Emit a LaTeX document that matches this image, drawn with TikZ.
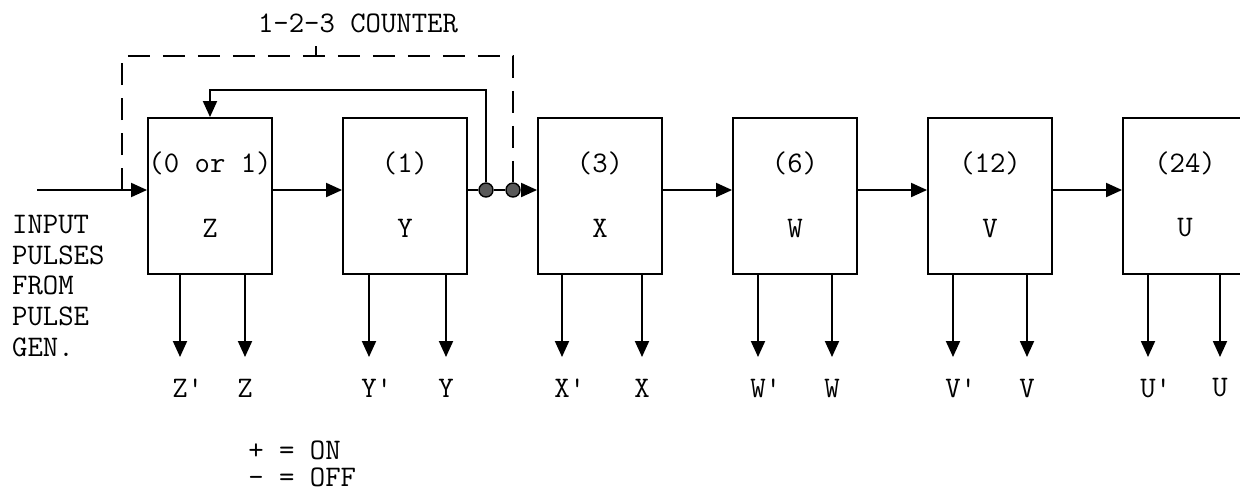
\documentclass[tikz,border=0pt]{standalone}
\usetikzlibrary{arrows.meta}

\tikzset{
  stage/.style={draw, line width=1.1pt, minimum width=2.48cm, minimum height=3.12cm, inner sep=0pt},
  sig/.style={line width=1.1pt, -{Triangle[length=0.32cm,width=0.28cm]}},
  tap/.style={draw, circle, fill=black!65, line width=0.8pt, minimum size=0.28cm, inner sep=0pt},
  cnt/.style={line width=1.1pt, dash pattern=on 0.44cm off 0.26cm},
}

\begin{document}
\begin{tikzpicture}[x=0.02cm, y=-0.02cm, font=\ttfamily\fontsize{17}{20}\selectfont]
    \useasboundingbox (0,0) rectangle (1240,495);

    % Stages of the divider chain
    \foreach \n/\x/\c in {Z/210/{(0 or 1)}, Y/405/(1), X/600/(3), W/795/(6), V/990/(12), U/1185/(24)} {
        \node[stage] (\n) at (\x,196) {};
        \node (\n c) at (\x,163) {\c};
        \node (\n n) at (\x,228) {\n};
    }

    % Input line
    \coordinate (inp) at (37,190);
    \draw[sig] (inp) -- (Z.west |- inp);

    % Chain connections
    \draw[sig] (Z.east |- inp) -- (Y.west |- inp);
    \node[tap] (t1) at (486,190) {};
    \node[tap] (t2) at (513,190) {};
    \draw[line width=1.1pt] (Y.east |- inp) -- (t1) -- (t2);
    \draw[sig] (t2) -- (X.west |- inp);
    \draw[sig] (X.east |- inp) -- (W.west |- inp);
    \draw[sig] (W.east |- inp) -- (V.west |- inp);
    \draw[sig] (V.east |- inp) -- (U.west |- inp);

    % Reset feedback
    \coordinate (fb) at (486,90);
    \draw[sig] (t1) -- (fb) -| (Z.north);

    % Counter bracket
    \coordinate (dl) at (122,190);
    \coordinate (ctop) at (513,56);
    \draw[cnt] (dl) |- (ctop) -- (t2);
    \coordinate (tk) at (316,56);
    \draw[line width=0.8pt] (tk) -- ++(0,-10);
    \node (title) at (358,23) {1-2-3 COUNTER};

    % Source label
    \node[align=left, anchor=west, font=\ttfamily\fontsize{17}{17.6}\selectfont] (src) at (6,286)
        {INPUT\\PULSES\\FROM\\PULSE\\GEN.};

    % Outputs
    \foreach \n/\x/\a/\b in {Z/210/-30/35, Y/405/-36/41, X/600/-38/42, W/795/-37/37, V/990/-37/37, U/1185/-37/35} {
        \node (\n o) at (\x+\a,388) {\n\rlap{'}};
        \node (\n d) at (\x+\b,388) {\n};
        \draw[sig] (\n o |- \n.south) -- ([yshift=0.62cm]\n o.center);
        \draw[sig] (\n d |- \n.south) -- ([yshift=0.62cm]\n d.center);
    }

    % Legend
    \node[anchor=west, inner sep=0pt] (on) at (248,450) {+ = ON};
    \node[anchor=west, inner sep=0pt] (off) at (248,477) {- = OFF};
\end{tikzpicture}
\end{document}
